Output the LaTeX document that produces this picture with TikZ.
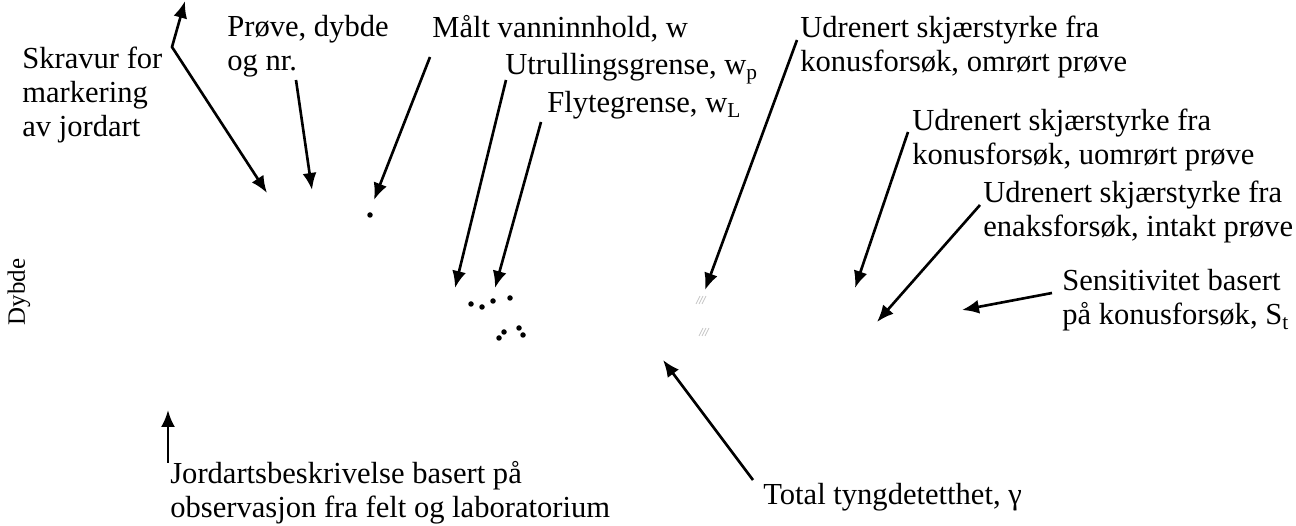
\documentclass[tikz,border=0pt]{standalone}
\usepackage{fontspec}
\setmainfont{Liberation Serif}
\usetikzlibrary{arrows.meta}

\begin{document}
\begin{tikzpicture}[
x=0.02cm,y=-0.02cm,
>={Latex[length=3.4mm,width=2.8mm]},
lbl/.style={anchor=base west,inner sep=0pt,align=left,font=\fontsize{17.4pt}{19.4pt}\selectfont},
arr/.style={->,line width=1.5pt},
dot/.style={circle,fill,inner sep=0pt,minimum size=1.1mm}
]
\useasboundingbox (0,0) rectangle (1296,526);

% labels (placed at the baseline of their last line)
\node[lbl] (skr) at (22,137) {Skravur for\\markering\\av jordart};
\node[lbl] (prv) at (227,71) {Prøve, dybde\\og nr.};
\node[lbl] (wn) at (432,38) {Målt vanninnhold, w};
\node[lbl] (wp) at (505,75) {Utrullingsgrense, w\textsubscript{p}};
\node[lbl] (wl) at (547,113) {Flytegrense, w\textsubscript{L}};
\node[lbl] (omr) at (800,72) {Udrenert skjærstyrke fra\\konusforsøk, omrørt prøve};
\node[lbl] (uomr) at (912,165) {Udrenert skjærstyrke fra\\konusforsøk, uomrørt prøve};
\node[lbl] (enaks) at (983,237) {Udrenert skjærstyrke fra\\enaksforsøk, intakt prøve};
\node[lbl] (sens) at (1062,325) {Sensitivitet basert\\på konusforsøk, S\textsubscript{t}};
\node[lbl] (jord) at (170,518) {Jordartsbeskrivelse basert på\\observasjon fra felt og laboratorium};
\node[lbl] (gam) at (763,505) {Total tyngdetetthet, γ};
\node[inner sep=0pt,rotate=90,font=\fontsize{14.2pt}{16pt}\selectfont] (dyb) at (19,292) {Dybde};

% arrow ends
\coordinate (skr-top) at (185,1);
\coordinate (skr-knee) at (172,47);
\coordinate (skr-end) at (267,193);
\coordinate (prv-s) at (296,80);
\coordinate (prv-e) at (312,190);
\coordinate (wn-s) at (430,57);
\coordinate (wn-e) at (374,200);
\coordinate (wp-s) at (506,80);
\coordinate (wp-e) at (455,288);
\coordinate (wl-s) at (541,122);
\coordinate (wl-e) at (495,288);
\coordinate (omr-s) at (797,40);
\coordinate (omr-e) at (705,290);
\coordinate (uomr-s) at (908,132);
\coordinate (uomr-e) at (855,288);
\coordinate (enaks-s) at (980,205);
\coordinate (enaks-e) at (877,322);
\coordinate (sens-s) at (1052,293);
\coordinate (sens-e) at (962,310);
\coordinate (jord-s) at (168,463);
\coordinate (jord-e) at (168,410);
\coordinate (gam-s) at (753,480);
\coordinate (gam-e) at (663,360);

\draw[arr,<->] (skr-end) -- (skr-knee) -- (skr-top);
\draw[arr] (prv-s) -- (prv-e);
\draw[arr] (wn-s) -- (wn-e);
\draw[arr] (wp-s) -- (wp-e);
\draw[arr] (wl-s) -- (wl-e);
\draw[arr] (omr-s) -- (omr-e);
\draw[arr] (uomr-s) -- (uomr-e);
\draw[arr] (enaks-s) -- (enaks-e);
\draw[arr] (sens-s) -- (sens-e);
\draw[arr] (jord-s) -- (jord-e);
\draw[arr] (gam-s) -- (gam-e);

% measured points
\foreach \px/\py in {370/215,471/304,482/307,493/301,510/298,499/338,504/332,519/328,523/335}
  \node[dot] at (\px,\py) {};
% faint marks
\foreach \mx/\my in {700/300,703/332}
  \foreach \k in {0,3,6}
    \draw[gray!45,line width=0.5pt] (\mx+\k-4,\my+4) -- (\mx+\k,\my-4);
\end{tikzpicture}
\end{document}
